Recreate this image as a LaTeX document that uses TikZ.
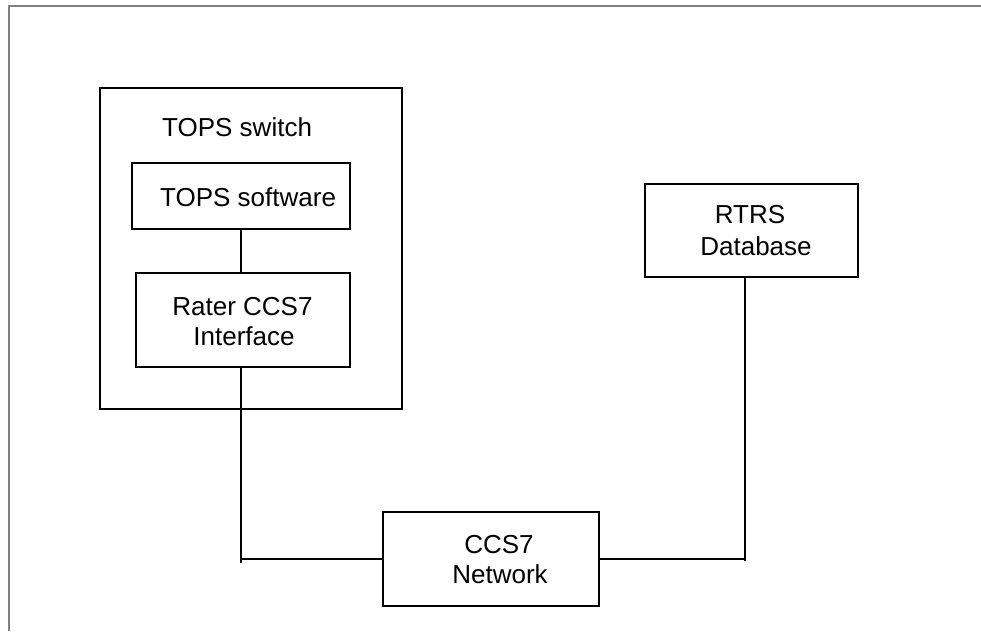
\documentclass[tikz,border=0pt]{standalone}
\usepackage{fontspec}
\setmainfont{Liberation Sans}
\begin{document}
\begin{tikzpicture}[x=1pt,y=-1pt,
  box/.style={draw=black,line width=2pt,inner sep=0pt},
  wire/.style={draw=black,line width=1.8pt},
  lbl/.style={font=\fontsize{26}{30}\selectfont,inner sep=0pt,anchor=base}]
\useasboundingbox (0,0) rectangle (981,631);
\draw[gray,line width=2pt] (9,631) -- (9,6) -- (981,6);
% boxes
\node[box,minimum width=302pt,minimum height=321pt] (sw) at (251,248.5) {};
\node[box,minimum width=218pt,minimum height=66pt] (soft) at (241,196) {};
\node[box,minimum width=214pt,minimum height=94pt] (rater) at (243,320) {};
\node[box,minimum width=216pt,minimum height=94pt] (ccs) at (491,559) {};
\node[box,minimum width=213pt,minimum height=93pt] (rtrs) at (751.5,230.5) {};
% labels
\node[lbl,anchor=base west] (t1) at (162,137) {TOPS switch};
\node[lbl,anchor=base west] (t2) at (160,206) {TOPS software};
\node[lbl] (t3) at (242.5,315) {Rater CCS7};
\node[lbl] (t4) at (244,345) {Interface};
\node[lbl] (t5) at (499,553) {CCS7};
\node[lbl] (t6) at (500,583) {Network};
\node[lbl] (t7) at (750,223) {RTRS};
\node[lbl] (t8) at (756,255) {Database};
% connectors
\coordinate (j1) at (241,563);
\coordinate (j2) at (745,561);
\draw[wire] (soft.south) -- (soft.south |- rater.north);
\draw[wire] (rater.south -| j1) -- (j1);
\draw[wire] (j1 |- ccs.west) -- (ccs.west);
\draw[wire] (ccs.east) -- (ccs.east -| j2);
\draw[wire] (rtrs.south -| j2) -- (j2);
\end{tikzpicture}
\end{document}
